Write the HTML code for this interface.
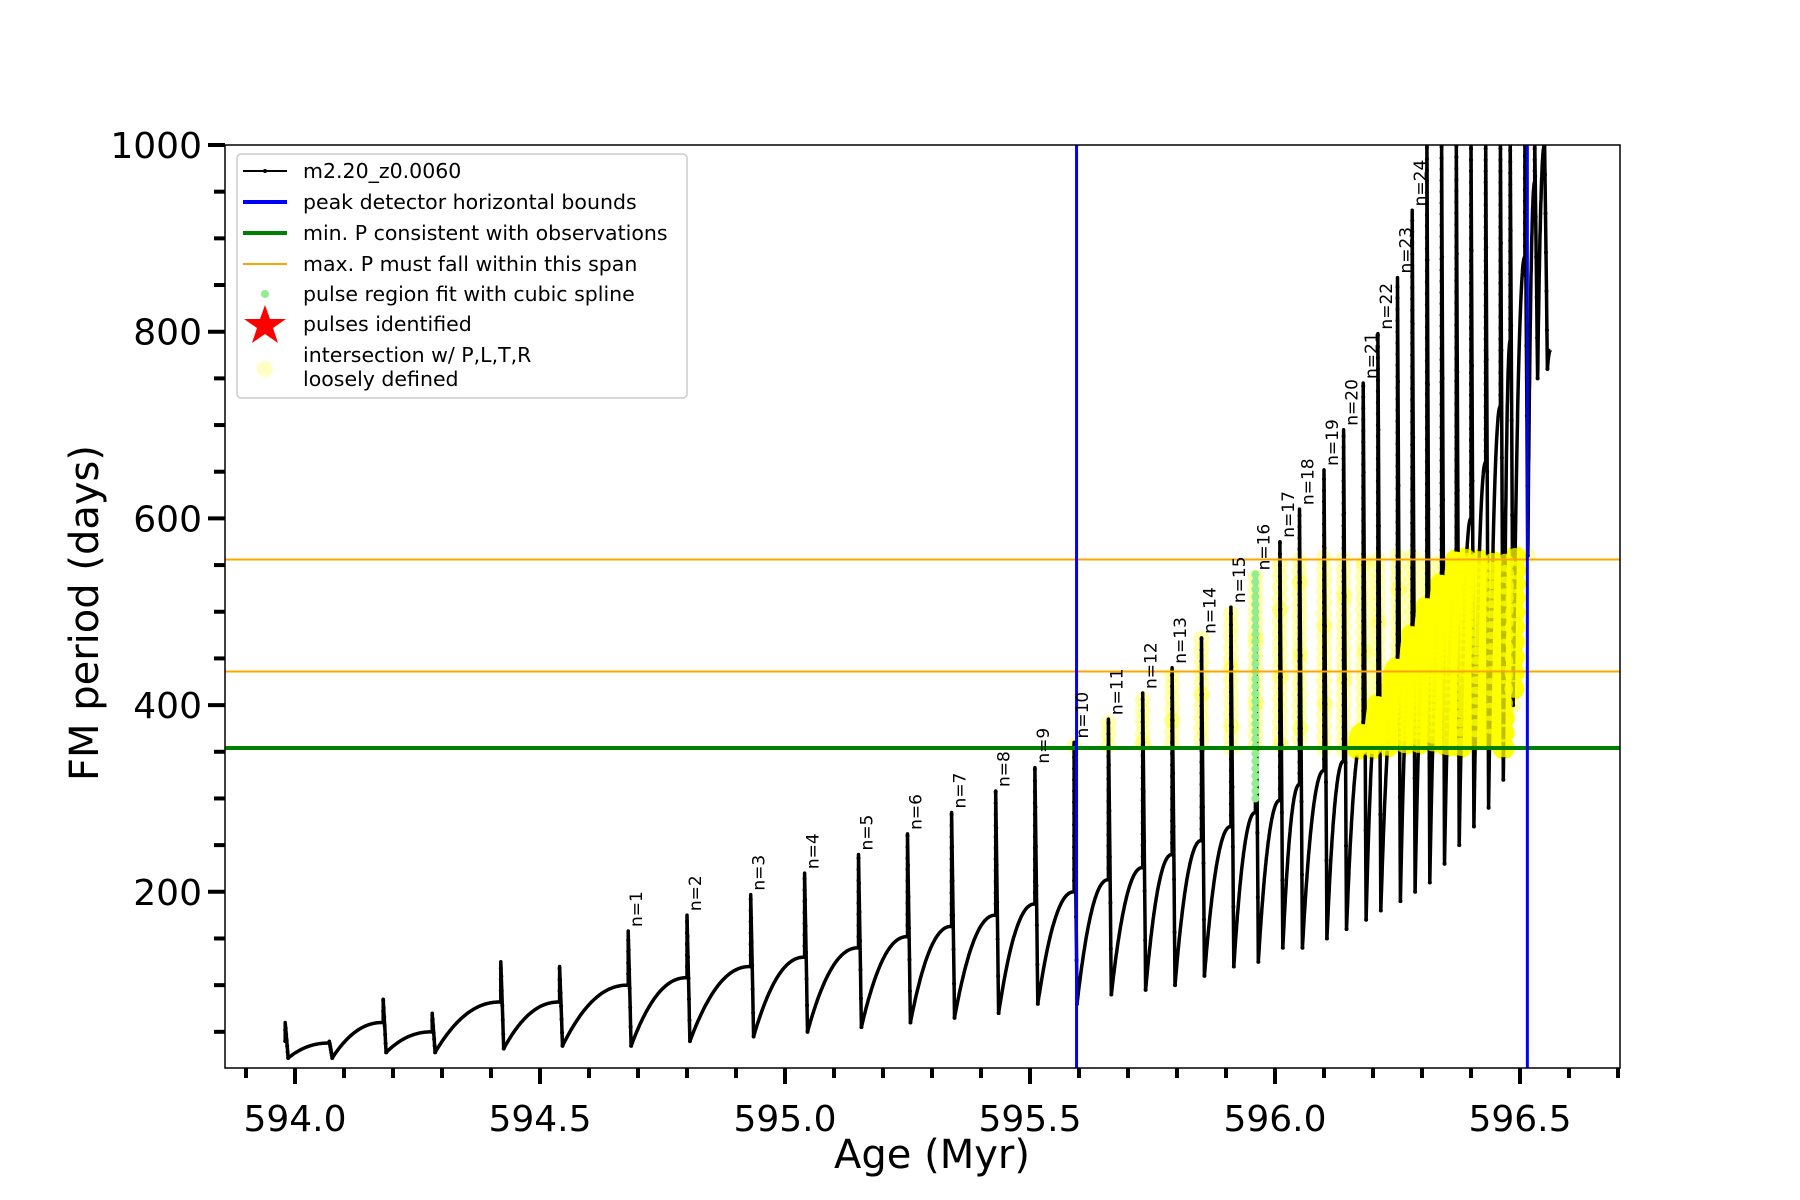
<!DOCTYPE html>
<html><head><meta charset="utf-8"><style>
html,body{margin:0;padding:0;background:#fff;}
svg{display:block;font-family:"DejaVu Sans","Liberation Sans",sans-serif;}
</style></head><body>
<svg id="chart" width="1800" height="1200" viewBox="0 0 1800 1200">
<g id="marks"></g>
<g id="axes"></g>
<g id="legend">
 <rect x="237" y="154" width="450" height="244" rx="4" fill="#fff" fill-opacity="0.85" stroke="#ccc" stroke-width="1.5"/>
 <g><line x1="243" y1="171" x2="287" y2="171" stroke="#000" stroke-width="2"/><circle cx="265" cy="171" r="2"/><text x="303" y="178" font-size="20.5">m2.20_z0.0060</text></g>
 <g><line x1="243" y1="202" x2="287" y2="202" stroke="#0000ff" stroke-width="4"/><text x="303" y="209" font-size="20.5">peak detector horizontal bounds</text></g>
 <g><line x1="243" y1="233" x2="287" y2="233" stroke="#008000" stroke-width="4"/><text x="303" y="240" font-size="20.5">min. P consistent with observations</text></g>
 <g><line x1="243" y1="264" x2="287" y2="264" stroke="orange" stroke-width="2"/><text x="303" y="271" font-size="20.5">max. P must fall within this span</text></g>
 <g><circle cx="265" cy="294" r="4" fill="lightgreen"/><text x="303" y="301" font-size="20.5">pulse region fit with cubic spline</text></g>
 <g><polygon points="265,305 270,319 286,319 273,328 278,343 265,334 252,343 257,328 244,319 260,319" fill="red"/><text x="303" y="331" font-size="20.5">pulses identified</text></g>
 <g><circle cx="265" cy="369" r="8" fill="#ffff99" fill-opacity="0.6"/><text x="303" y="362" font-size="20.5">intersection w/ P,L,T,R</text><text x="303" y="386" font-size="20.5">loosely defined</text></g>
</g>
</svg>
<script>
const ages=[593.98,594.07,594.18,594.28,594.42,594.54,594.68,594.80,594.93,595.04,595.15,595.25,595.34,595.43,595.51,595.59,595.66,595.73,595.79,595.85,595.91,595.96,596.01,596.05,596.10,596.14,596.18,596.21,596.25,596.28,596.31,596.34,596.37,596.40,596.43,596.46,596.48,596.51,596.53,596.55];
const peaks=[60,40,85,70,125,120,158,175,197,220,240,262,285,308,333,360,385,413,440,472,505,540,575,610,652,695,745,798,858,930,1010,1010,1010,1010,1010,1010,1010,1010,1010,1010];
const troughs=[22,22,28,28,32,35,35,40,45,50,55,60,65,70,80,80,90,95,100,110,120,125,140,140,150,160,170,180,190,200,210,230,250,270,290,320,400,560,750,760];
const bases=[40,38,60,50,82,82,100,108,120,130,140,152,163,175,187,200,213,226,240,255,270,285,298,315,330,340,370,400,440,475,505,530,555,600,660,720,790,880,960,1000];
const labelNums=[1,2,3,4,5,6,7,8,9,10,11,12,13,14,15,16,17,18,19,20,21,22,23,24];
const xTicksMajor=[594.0,594.5,595.0,595.5,596.0,596.5];
const yTicksMajor=[200,400,600,800,1000];
const bluesX=[595.595,596.515];
const minP=[354];
const maxPSpan=[436,556];
const greenSpikeIdx=[21];

const NS="http://www.w3.org/2000/svg";
const L=225,R=1620,T=145,B=1068;
const X=v=>295+(v-594)*490;
const Y=v=>145+(1000-v)*0.9335;
const marks=document.getElementById('marks'), axes=document.getElementById('axes');
function mk(tag,attrs,parent){const e=document.createElementNS(NS,tag);for(const k in attrs)e.setAttribute(k,attrs[k]);parent.appendChild(e);return e;}

const defs=mk('defs',{},marks);const cp=mk('clipPath',{id:'pc'},defs);mk('rect',{x:L,y:T,width:R-L,height:B-T},cp);
const plot=mk('g',{'clip-path':'url(#pc)'},marks);

const pts=[];const spikePts=[];const risePts=[];
for(let i=0;i<ages.length;i++){
  const a=ages[i];
  for(let v=bases[i];v<peaks[i];v+=12){pts.push([a,v]);spikePts.push([a,v,i]);}
  pts.push([a,peaks[i]]);
  const fallEnd=a+0.006;
  for(let k=1;k<=6;k++){const u=k/6;const v=peaks[i]+(troughs[i]-peaks[i])*u;pts.push([a+0.006*u,v]);spikePts.push([a+0.006*u,v,i]);}
  const next=i+1<ages.length?ages[i+1]:a+0.012;
  const target=i+1<ages.length?bases[i+1]:troughs[i]+20;
  const n=60;
  for(let k=1;k<n;k++){const u=k/n;const v=troughs[i]+(target-troughs[i])*(1-Math.pow(1-u,2.2));const p=[fallEnd+(next-fallEnd)*u,v];pts.push(p);risePts.push(p);}
}
const yl=mk('g',{},plot);


spikePts.forEach(p=>{if(p[0]>=595.585&&p[0]<=596.52&&p[1]>=352&&p[1]<=560){mk('circle',{cx:X(p[0]),cy:Y(p[1]),r:8,fill:'#ffff00','fill-opacity':0.3},yl);}});
risePts.forEach(p=>{if(p[0]>=596.12&&p[0]<=596.52&&p[1]>=352&&p[1]<=560){mk('circle',{cx:X(p[0]),cy:Y(p[1]),r:11,fill:'#ffff00','fill-opacity':1},yl);}});
let d='';pts.forEach((p,k)=>{d+=(k?'L':'M')+X(p[0]).toFixed(1)+','+Y(p[1]).toFixed(1);});
const path=mk('path',{d:d,fill:'none',stroke:'#000','stroke-width':3.5,'stroke-linejoin':'round'},plot);


const dots=mk('g',{fill:'#000'},plot);
spikePts.forEach(p=>{mk('circle',{cx:X(p[0]),cy:Y(p[1]),r:2},dots);});
const yl2=mk('g',{},plot);
risePts.forEach(p=>{if(p[0]>=596.12&&p[0]<=596.52&&p[1]>=352&&p[1]<=560){mk('circle',{cx:X(p[0]),cy:Y(p[1]),r:9,fill:'#ffff00','fill-opacity':0.75},yl2);}});
greenSpikeIdx.forEach(i=>{const g=mk('g',{fill:'lightgreen'},plot);
 
 
 for(let v=300;v<=540;v+=8)mk('circle',{cx:X(ages[i]),cy:Y(v),r:4},g);});
maxPSpan.forEach(v=>{const l=mk('line',{x1:L,x2:R,y1:Y(v),y2:Y(v),stroke:'orange','stroke-width':2},plot);
 
 });
minP.forEach(v=>{const l=mk('line',{x1:L,x2:R,y1:Y(v),y2:Y(v),stroke:'#008000','stroke-width':4},plot);
 
 });
bluesX.forEach(v=>{const l=mk('line',{x1:X(v),x2:X(v),y1:T,y2:B,stroke:'#0000ff','stroke-width':3},plot);
 
 });
labelNums.forEach(n=>{const i=n+5;const x=X(ages[i])+14,y=Y(Math.min(peaks[i],1000))-4;
 const t=mk('text',{x:x,y:y,'font-size':17,transform:`rotate(-90 ${x} ${y})`},marks);t.textContent='n='+n;
 
 });

const fr=mk('rect',{x:L,y:T,width:R-L,height:B-T,fill:'none',stroke:'#000','stroke-width':1.5},axes);


for(let k=0;k<=28;k++){const v=593.9+k*0.1;const x=X(v);if(x<L-1||x>R+1)continue;
 const major=xTicksMajor.some(m=>Math.abs(m-v)<1e-6);
 mk('line',{x1:x,x2:x,y1:B,y2:B+(major?16:10),stroke:'#000','stroke-width':4},axes);}
xTicksMajor.forEach(v=>{const t=mk('text',{x:X(v),y:1131,'font-size':36,'text-anchor':'middle'},axes);t.textContent=v.toFixed(1);
 
 });
for(let v=50;v<=1000;v+=50){const y=Y(v);const major=yTicksMajor.includes(v);
 mk('line',{x1:L-(major?17:11),x2:L,y1:y,y2:y,stroke:'#000','stroke-width':4},axes);}
yTicksMajor.forEach(v=>{const t=mk('text',{x:202,y:Y(v)+13,'font-size':36,'text-anchor':'end'},axes);t.textContent=v;
 
 });
const xt=mk('text',{x:932,y:1168,'font-size':40,'text-anchor':'middle'},axes);xt.textContent='Age (Myr)';


const yt=mk('text',{x:98,y:613,'font-size':40,'text-anchor':'middle',transform:'rotate(-90 98 613)'},axes);yt.textContent='FM period (days)';


</script>
</body></html>
